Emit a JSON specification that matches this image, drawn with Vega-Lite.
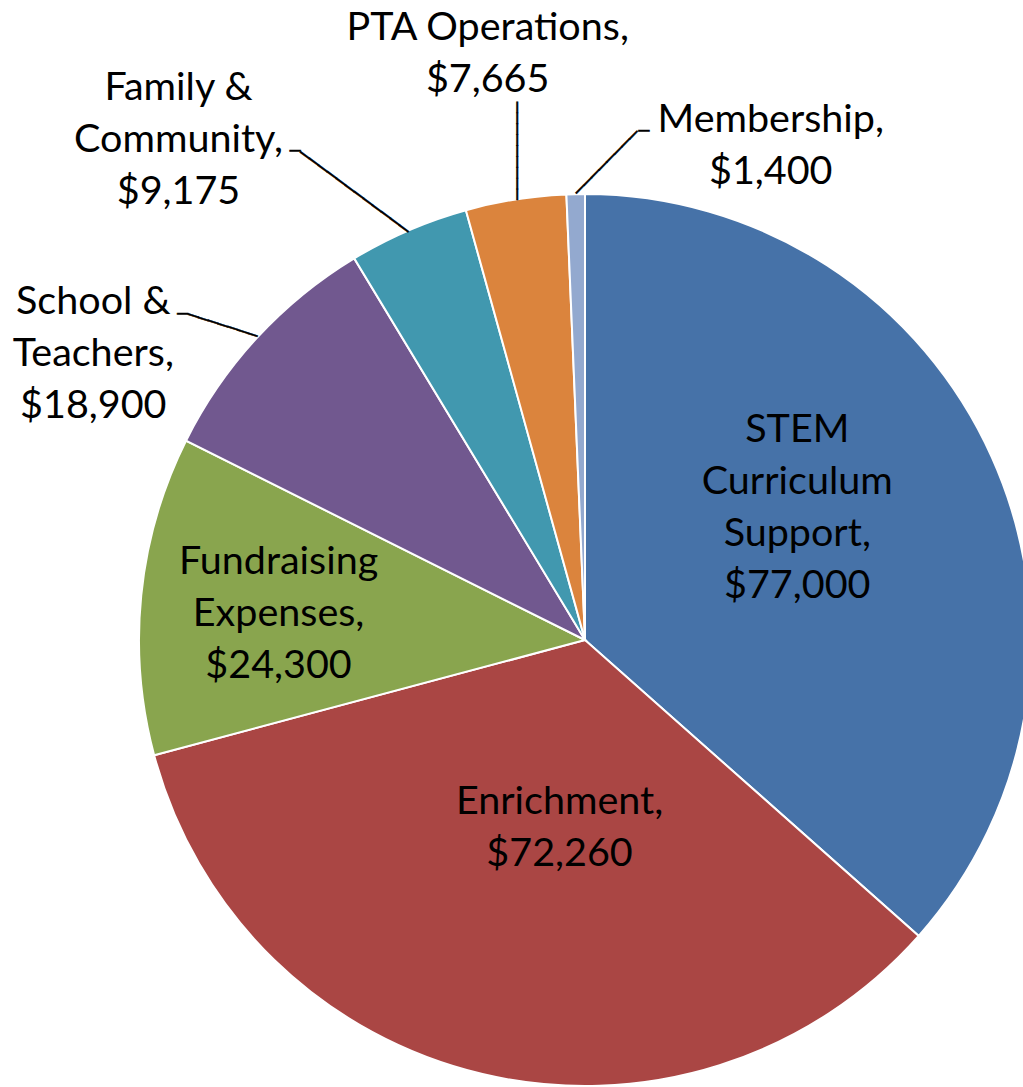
{
  "$schema": "https://vega.github.io/schema/vega-lite/v6.json",
  "width": 1170,
  "height": 1280,
  "autosize": {"type": "none"},
  "padding": {"left": 0, "top": 0, "right": -147, "bottom": -193},
  "background": "white",
  "config": {"view": {"stroke": null}},
  "data": {
    "values": [
      {"category": "STEM Curriculum Support", "amount": 77000, "order": 1, "label": "STEM\nCurriculum\nSupport,\n$77,000"},
      {"category": "Enrichment", "amount": 72260, "order": 2, "label": "Enrichment,\n$72,260"},
      {"category": "Fundraising Expenses", "amount": 24300, "order": 3, "label": "Fundraising\nExpenses,\n$24,300"},
      {"category": "School & Teachers", "amount": 18900, "order": 4, "label": "School &\nTeachers,\n$18,900"},
      {"category": "Family & Community", "amount": 9175, "order": 5, "label": "Family &\nCommunity,\n$9,175"},
      {"category": "PTA Operations", "amount": 7665, "order": 6, "label": "PTA Operations,\n$7,665"},
      {"category": "Membership", "amount": 1400, "order": 7, "label": "Membership,\n$1,400"}
    ]
  },
  "encoding": {
    "theta": {"field": "amount", "type": "quantitative", "stack": true},
    "order": {"field": "order", "type": "quantitative"}
  },
  "layer": [
    {
      "mark": {"type": "arc", "outerRadius": 446, "stroke": "white", "strokeWidth": 2},
      "encoding": {
        "color": {
          "field": "category",
          "type": "nominal",
          "scale": {
            "domain": ["STEM Curriculum Support", "Enrichment", "Fundraising Expenses", "School & Teachers", "Family & Community", "PTA Operations", "Membership"],
            "range": ["#4672A8", "#AA4644", "#89A54E", "#71588F", "#4198AF", "#DB843D", "#93A9CF"]
          },
          "legend": null
        }
      }
    },
    {
      "mark": {"type": "text", "radius": 247, "dx": -13, "dy": -109, "font": "Lato", "fontSize": 39.5, "lineHeight": 52, "lineBreak": "\n", "align": "center", "baseline": "middle", "color": "black"},
      "encoding": {"text": {"condition": {"test": "datum.category === 'STEM Curriculum Support'", "field": "label", "type": "nominal"}, "value": ""}}
    },
    {
      "mark": {"type": "text", "radius": 189, "dx": 18, "dy": -22, "font": "Lato", "fontSize": 39.5, "lineHeight": 52, "lineBreak": "\n", "align": "center", "baseline": "middle", "color": "black"},
      "encoding": {"text": {"condition": {"test": "datum.category === 'Enrichment'", "field": "label", "type": "nominal"}, "value": ""}}
    },
    {
      "mark": {"type": "text", "radius": 307, "dx": -1, "dy": -47, "font": "Lato", "fontSize": 39.5, "lineHeight": 52, "lineBreak": "\n", "align": "center", "baseline": "middle", "color": "black"},
      "encoding": {"text": {"condition": {"test": "datum.category === 'Fundraising Expenses'", "field": "label", "type": "nominal"}, "value": ""}}
    },
    {
      "mark": {"type": "text", "radius": 556, "dx": -83, "dy": 39, "font": "Lato", "fontSize": 39.5, "lineHeight": 52, "lineBreak": "\n", "align": "center", "baseline": "middle", "color": "black"},
      "encoding": {"text": {"condition": {"test": "datum.category === 'School & Teachers'", "field": "label", "type": "nominal"}, "value": ""}}
    },
    {
      "mark": {"type": "text", "radius": 620, "dx": -161, "dy": 17, "font": "Lato", "fontSize": 39.5, "lineHeight": 52, "lineBreak": "\n", "align": "center", "baseline": "middle", "color": "black"},
      "encoding": {"text": {"condition": {"test": "datum.category === 'Family & Community'", "field": "label", "type": "nominal"}, "value": ""}}
    },
    {
      "mark": {"type": "text", "radius": 594, "dx": -5, "dy": -25, "font": "Lato", "fontSize": 39.5, "lineHeight": 52, "lineBreak": "\n", "align": "center", "baseline": "middle", "color": "black"},
      "encoding": {"text": {"condition": {"test": "datum.category === 'PTA Operations'", "field": "label", "type": "nominal"}, "value": ""}}
    },
    {
      "mark": {"type": "text", "radius": 490, "dx": 196, "dy": -30, "font": "Lato", "fontSize": 39.5, "lineHeight": 52, "lineBreak": "\n", "align": "center", "baseline": "middle", "color": "black"},
      "encoding": {"text": {"condition": {"test": "datum.category === 'Membership'", "field": "label", "type": "nominal"}, "value": ""}}
    },
    {
      "mark": {"type": "text", "radius": 476, "angle": -45.5, "dx": 23.5, "dy": 22.4, "font": "DejaVu Sans Mono", "fontSize": 18.06, "align": "center", "baseline": "middle", "color": "black", "stroke": "black", "strokeWidth": 0.5},
      "encoding": {"text": {"condition": {"test": "datum.category === 'Membership'", "value": "────────"}, "value": ""}}
    },
    {
      "mark": {"type": "text", "radius": 507, "dx": 69.6, "dy": -1.1, "font": "DejaVu Sans Mono", "fontSize": 18, "align": "center", "baseline": "middle", "color": "black", "stroke": "black", "strokeWidth": 0.5},
      "encoding": {"text": {"condition": {"test": "datum.category === 'Membership'", "value": "─"}, "value": ""}}
    },
    {
      "mark": {"type": "text", "radius": 494, "angle": 90, "dx": -1, "dy": -7.8, "font": "DejaVu Sans Mono", "fontSize": 18.09, "align": "center", "baseline": "middle", "color": "black", "stroke": "black", "strokeWidth": 0.5},
      "encoding": {"text": {"condition": {"test": "datum.category === 'PTA Operations'", "value": "─────────"}, "value": ""}}
    },
    {
      "mark": {"type": "text", "radius": 503, "angle": 36.5, "dx": -17.3, "dy": 30.1, "font": "DejaVu Sans Mono", "fontSize": 18.6, "align": "center", "baseline": "middle", "color": "black", "stroke": "black", "strokeWidth": 0.5},
      "encoding": {"text": {"condition": {"test": "datum.category === 'Family & Community'", "value": "────────────"}, "value": ""}}
    },
    {
      "mark": {"type": "text", "radius": 563, "dx": -67, "dy": 29, "font": "DejaVu Sans Mono", "fontSize": 18, "align": "center", "baseline": "middle", "color": "black", "stroke": "black", "strokeWidth": 0.5},
      "encoding": {"text": {"condition": {"test": "datum.category === 'Family & Community'", "value": "─"}, "value": ""}}
    },
    {
      "mark": {"type": "text", "radius": 479, "angle": 17.7, "dx": -6.6, "dy": 13.45, "font": "DejaVu Sans Mono", "fontSize": 17.2, "align": "center", "baseline": "middle", "color": "black", "stroke": "black", "strokeWidth": 0.5},
      "encoding": {"text": {"condition": {"test": "datum.category === 'School & Teachers'", "value": "───────"}, "value": ""}}
    },
    {
      "mark": {"type": "text", "radius": 516, "dx": -23, "dy": 25, "font": "DejaVu Sans Mono", "fontSize": 18, "align": "center", "baseline": "middle", "color": "black", "stroke": "black", "strokeWidth": 0.5},
      "encoding": {"text": {"condition": {"test": "datum.category === 'School & Teachers'", "value": "─"}, "value": ""}}
    }
  ]
}
